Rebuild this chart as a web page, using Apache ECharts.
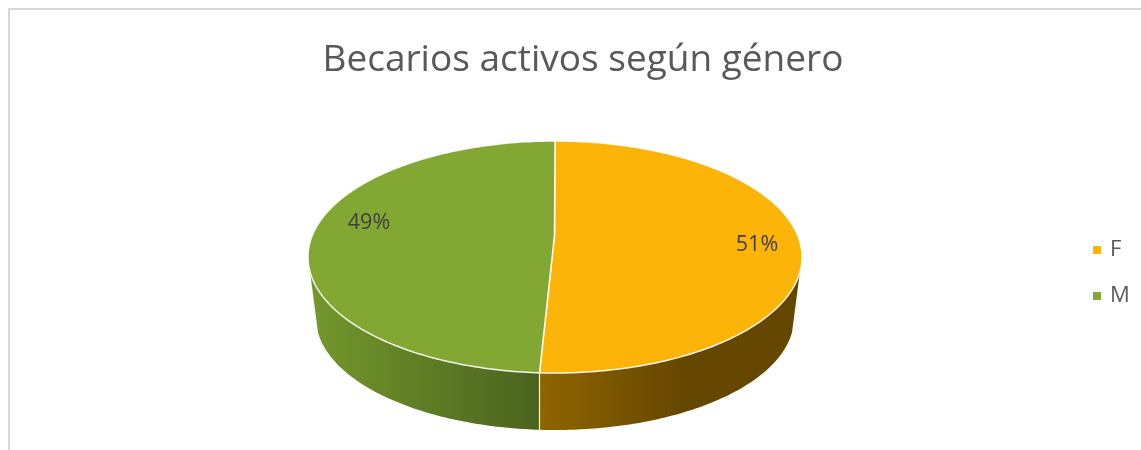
<!doctype html>
<html>
<head>
<meta charset="UTF-8">
<title>Becarios activos según género</title>
<style>
	html, body { margin: 0; padding: 0; background: #fff; }
	#chart { width: 1141px; height: 450px; }
</style>
</head>
<body>
<div id="chart"></div>
<script src="https://cdn.jsdelivr.net/npm/echarts@6/dist/echarts.min.js"></script>
<script>
var chartTitle = 'Becarios activos según género';
var categories = ['F', 'M'];
var values = [51, 49];

var colors = ['#fdb409', '#83a733'];
// side wall gradients, left to right
var sideStops = [
	[[0, '#8f6500'], [0.55, '#664700'], [1, '#664700']],
	[[0, '#74982d'], [1, '#4a621d']]
];
var labelPos = [[757, 245], [369, 223]];

// top face and bottom rim of the tilted disc
var topFace = { cx: 555, cy: 257, rx: 247, ry: 116 };
var bottomRim = { cx: 555, cy: 318, rx: 239, ry: 112 };
var apex = [554.5, 235];
var frontFrom = 97.4, frontTo = 262.6;

var total = values[0] + values[1];

function rimPoint(e, deg) {
	var a = deg * Math.PI / 180;
	return [e.cx + e.rx * Math.sin(a), e.cy - e.ry * Math.cos(a)];
}

function arcPoints(e, from, to) {
	var pts = [];
	var n = Math.max(2, Math.ceil(Math.abs(to - from)));
	for (var i = 0; i <= n; i++) {
		pts.push(rimPoint(e, from + (to - from) * i / n));
	}
	return pts;
}

function renderSlice(params, api) {
	var idx = params.seriesIndex;
	var before = 0;
	for (var i = 0; i < idx; i++) before += values[i];
	var from = before / total * 360;
	var to = from + api.value(0) / total * 360;

	var sideFrom = Math.max(from, frontFrom);
	var sideTo = Math.min(to, frontTo);
	var upper = arcPoints(topFace, sideFrom, sideTo);
	var lower = arcPoints(bottomRim, sideFrom, sideTo).reverse();
	var xs = upper.concat(lower).map(function(p) { return p[0]; });
	var x0 = Math.min.apply(null, xs), x1 = Math.max.apply(null, xs);

	var children = [{
		type: 'polygon',
		shape: { points: upper.concat(lower) },
		style: {
			fill: new echarts.graphic.LinearGradient(x0, 0, x1, 0,
				sideStops[idx].map(function(s) { return { offset: s[0], color: s[1] }; }), true)
		}
	}, {
		type: 'polygon',
		shape: { points: [apex].concat(arcPoints(topFace, from, to)) },
		style: { fill: colors[idx], stroke: 'rgba(255,255,255,0.9)', lineWidth: 1.5 }
	}, {
		type: 'text',
		style: {
			text: Math.round(api.value(0) / total * 100) + '%',
			x: labelPos[idx][0], y: labelPos[idx][1],
			align: 'center', verticalAlign: 'middle',
			fill: '#404040', fontSize: 21.5, fontFamily: 'Open Sans'
		}
	}];
	// white seam down the wall at the split
	if (idx === 0) {
		var a = rimPoint(topFace, to), b = rimPoint(bottomRim, to);
		children.push({
			type: 'line',
			z2: 5,
			shape: { x1: a[0], y1: a[1], x2: a[0], y2: b[1] },
			style: { stroke: 'rgba(255,255,255,0.9)', lineWidth: 1.2 }
		});
	}
	return { type: 'group', children: children };
}

var chart = echarts.init(document.getElementById('chart'));
chart.setOption({
	animation: false,
	title: {
		text: chartTitle,
		left: 578, top: 37, textAlign: 'center',
		textStyle: { color: '#595959', fontSize: 37, fontWeight: 'normal', fontFamily: 'Open Sans' }
	},
	legend: {
		orient: 'vertical',
		left: 1093, top: 239,
		padding: 0,
		itemWidth: 8, itemHeight: 8, itemGap: 24,
		icon: 'rect',
		data: categories,
		textStyle: { color: '#595959', fontSize: 22, fontFamily: 'Open Sans', padding: [0, 0, 0, 4] }
	},
	graphic: [{
		type: 'polyline',
		shape: { points: [[9, 450], [9, 9], [1141, 9]] },
		style: { fill: null, stroke: '#d9d9d9', lineWidth: 2 }
	}],
	series: categories.map(function(name, i) {
		return {
			type: 'custom',
			name: name,
			coordinateSystem: 'none',
			itemStyle: { color: colors[i] },
			renderItem: renderSlice,
			data: [[values[i]]]
		};
	})
});
</script>
</body>
</html>
